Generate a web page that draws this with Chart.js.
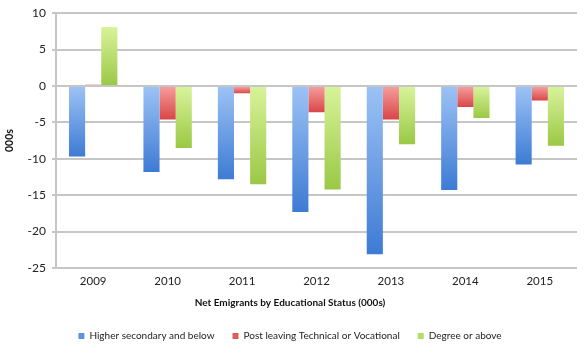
<!DOCTYPE html>
<html>
<head>
<meta charset="utf-8">
<script src="https://cdn.jsdelivr.net/npm/chart.js@4.4.1/dist/chart.umd.min.js"></script>
<style>
  html, body { margin: 0; padding: 0; background: #ffffff; }
  #wrap { width: 585px; height: 354px; }
</style>
</head>
<body>
<div id="wrap"><canvas id="grafico" width="585" height="354"></canvas></div>
<script>
// dados (milhares)
var Anos = ["2009", "2010", "2011", "2012", "2013", "2014", "2015"];
var Series = ["Higher secondary and below", "Post leaving Technical or Vocational", "Degree or above"];
var Secundario = [-9.7, -11.8, -12.8, -17.3, -23.1, -14.3, -10.8];
var Tecnico = [0.2, -4.6, -1.0, -3.6, -4.6, -2.9, -2.0];
var Superior = [8.1, -8.5, -13.5, -14.2, -8.0, -4.4, -8.2];
var TicksY = [10, 5, 0, -5, -10, -15, -20, -25];

var CorTopo = ["#9cc2f5", "#f59c9c", "#d8f39a"];
var CorBase = ["#3d7bd4", "#d94646", "#9bc845"];
var CorLegenda = ["#5b93e0", "#e25a5a", "#b3dc6a"];

var Fonte = "Lato, 'Liberation Sans', sans-serif";

// gradiente vertical em cada barra (opcoes nao compartilhadas, cor scriptable)
var gradienteBarras = {
    id: 'gradienteBarras',
    beforeDatasetsDraw: function(chart) {
        var ctx = chart.ctx;
        chart.data.datasets.forEach(function(ds, i) {
            var meta = chart.getDatasetMeta(i);
            meta.data.forEach(function(bar) {
                var topo = Math.min(bar.y, bar.base);
                var base = Math.max(bar.y, bar.base);
                if (base - topo < 1) base = topo + 1;
                var g = ctx.createLinearGradient(0, topo, 0, base);
                g.addColorStop(0, CorTopo[i]);
                g.addColorStop(1, CorBase[i]);
                bar.options = Object.assign({}, bar.options, { backgroundColor: g });
            });
        });
    }
};

var dados = [Secundario, Tecnico, Superior];
var datasets = [];
for (var i = 0; i < Series.length; i++) {
    datasets.push({
        label: Series[i],
        data: dados[i],
        backgroundColor: function(c) { return CorLegenda[c.datasetIndex]; },
        borderWidth: 0,
        barPercentage: 1.0,
        categoryPercentage: 0.65
    });
}

new Chart(document.getElementById("grafico"), {
    type: 'bar',
    data: {
        labels: Anos,
        datasets: datasets
    },
    plugins: [gradienteBarras],
    options: {
        responsive: false,
        animation: false,
        layout: {
            padding: { left: 3, right: 8, top: 6, bottom: 3 }
        },
        plugins: {
            legend: {
                position: 'bottom',
                labels: {
                    boxWidth: 6,
                    boxHeight: 6,
                    padding: 18,
                    color: '#222',
                    font: { family: Fonte, size: 10 }
                }
            },
            title: {
                display: true,
                position: 'bottom',
                weight: 500,
                text: 'Net Emigrants by Educational Status (000s)',
                color: '#111',
                font: { family: Fonte, size: 10, weight: 'bold' },
                padding: { top: 3, bottom: 4 }
            },
            tooltip: { enabled: false }
        },
        scales: {
            x: {
                grid: { display: false, drawTicks: false },
                border: { display: false },
                ticks: {
                    color: '#222',
                    font: { family: Fonte, size: 11.5 },
                    padding: 6
                },
                afterFit: function(scale) {
                    scale.height = 26;
                }
            },
            y: {
                min: -25,
                max: 10,
                afterBuildTicks: function(axis) {
                    axis.ticks = TicksY.map(function(v) { return { value: v }; });
                },
                grid: {
                    color: '#c6c6c6',
                    lineWidth: 2,
                    tickLength: 4
                },
                border: { display: true, color: '#c6c6c6', width: 2 },
                ticks: {
                    color: '#222',
                    font: { family: Fonte, size: 12 },
                    padding: 6
                },
                title: {
                    display: true,
                    text: '000s',
                    color: '#111',
                    font: { family: Fonte, size: 10.5, weight: 'bold' },
                    padding: { top: 0, bottom: 6 }
                }
            }
        }
    }
});
</script>
</body>
</html>
